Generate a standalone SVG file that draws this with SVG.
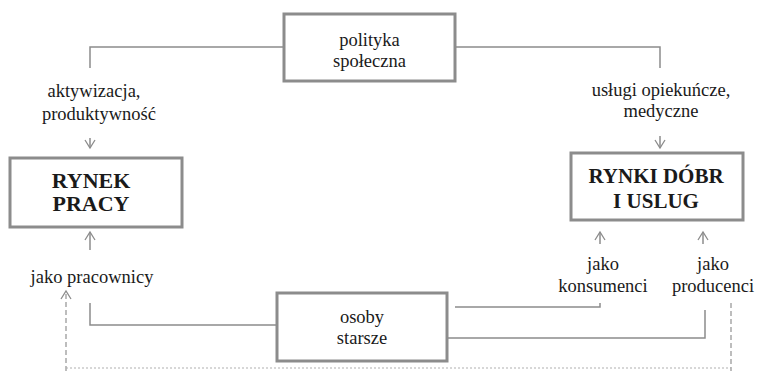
<svg xmlns="http://www.w3.org/2000/svg" width="757" height="371" viewBox="0 0 757 371">
<defs>
<style>
.box{fill:#fff;stroke:#8c8c8c;stroke-width:3}
.ln{fill:none;stroke:#8c8c8c;stroke-width:1.5}
.dash{fill:none;stroke:#9a9a9a;stroke-width:1.3;stroke-dasharray:5,3}
.dot{fill:none;stroke:#b0b0b0;stroke-width:1.2;stroke-dasharray:2,2}
.t{font-family:"Liberation Serif","Times New Roman",serif;font-size:18.5px;fill:#1a1a1a;text-anchor:middle}
.b{font-family:"Liberation Serif","Times New Roman",serif;font-size:21px;font-weight:bold;fill:#1a1a1a;text-anchor:middle}
</style>
<marker id="ah" markerWidth="12" markerHeight="12" refX="10" refY="6" orient="auto" markerUnits="userSpaceOnUse" viewBox="0 0 12 12">
<path d="M2,1 L10,6 L2,11" fill="none" stroke="#8c8c8c" stroke-width="1.3"/>
</marker>
</defs>
<rect width="757" height="371" fill="#fff"/>
<g id="connectors">
<polyline class="ln" points="284,47 90,47 90,68"/>
<polyline class="ln" points="455,47 660,47 660,68"/>
<line class="ln" x1="90" y1="138" x2="90" y2="148" marker-end="url(#ah)"/>
<line class="ln" x1="660" y1="136" x2="660" y2="148" marker-end="url(#ah)"/>
<line class="ln" x1="90" y1="250" x2="90" y2="232" marker-end="url(#ah)"/>
<polyline class="ln" points="277,325 90,325 90,303"/>
<line class="ln" x1="600" y1="244" x2="600" y2="232" marker-end="url(#ah)"/>
<line class="ln" x1="703" y1="244" x2="703" y2="232" marker-end="url(#ah)"/>
<polyline class="ln" points="455,307 600,307 600,303"/>
<polyline class="ln" points="447,338 705,338 705,310"/>
<line class="dash" x1="66" y1="371" x2="66" y2="291" marker-end="url(#ah)"/>
<line class="dash" x1="731" y1="303" x2="731" y2="371"/>
<line class="dot" x1="66" y1="368" x2="731" y2="368"/>
</g>
<g id="polityka">
<rect class="box" x="284" y="14" width="171" height="67"/>
<text class="t" x="369.5" y="46">polityka</text>
<text class="t" x="369.5" y="67">społeczna</text>
</g>
<g id="rynek-pracy">
<rect class="box" x="10" y="158" width="172" height="69"/>
<text class="b" x="91" y="188" style="font-size:22px">RYNEK</text>
<text class="b" x="91" y="211" style="font-size:22px">PRACY</text>
</g>
<g id="rynki-dobr">
<rect class="box" x="571" y="153" width="172" height="67"/>
<text class="b" x="656" y="183">RYNKI DÓBR</text>
<text class="b" x="656" y="208">I USLUG</text>
</g>
<g id="osoby-starsze">
<rect class="box" x="277" y="293" width="170" height="68"/>
<text class="t" x="362" y="323">osoby</text>
<text class="t" x="362" y="344">starsze</text>
</g>
<g id="labels">
<text class="t" x="94" y="97">aktywizacja,</text>
<text class="t" x="99" y="120">produktywność</text>
<text class="t" x="661" y="96">usługi opiekuńcze,</text>
<text class="t" x="661" y="117">medyczne</text>
<text class="t" x="92" y="283">jako pracownicy</text>
<text class="t" x="603" y="270">jako</text>
<text class="t" x="603" y="292">konsumenci</text>
<text class="t" x="713" y="270">jako</text>
<text class="t" x="713" y="292">producenci</text>
</g>
</svg>
